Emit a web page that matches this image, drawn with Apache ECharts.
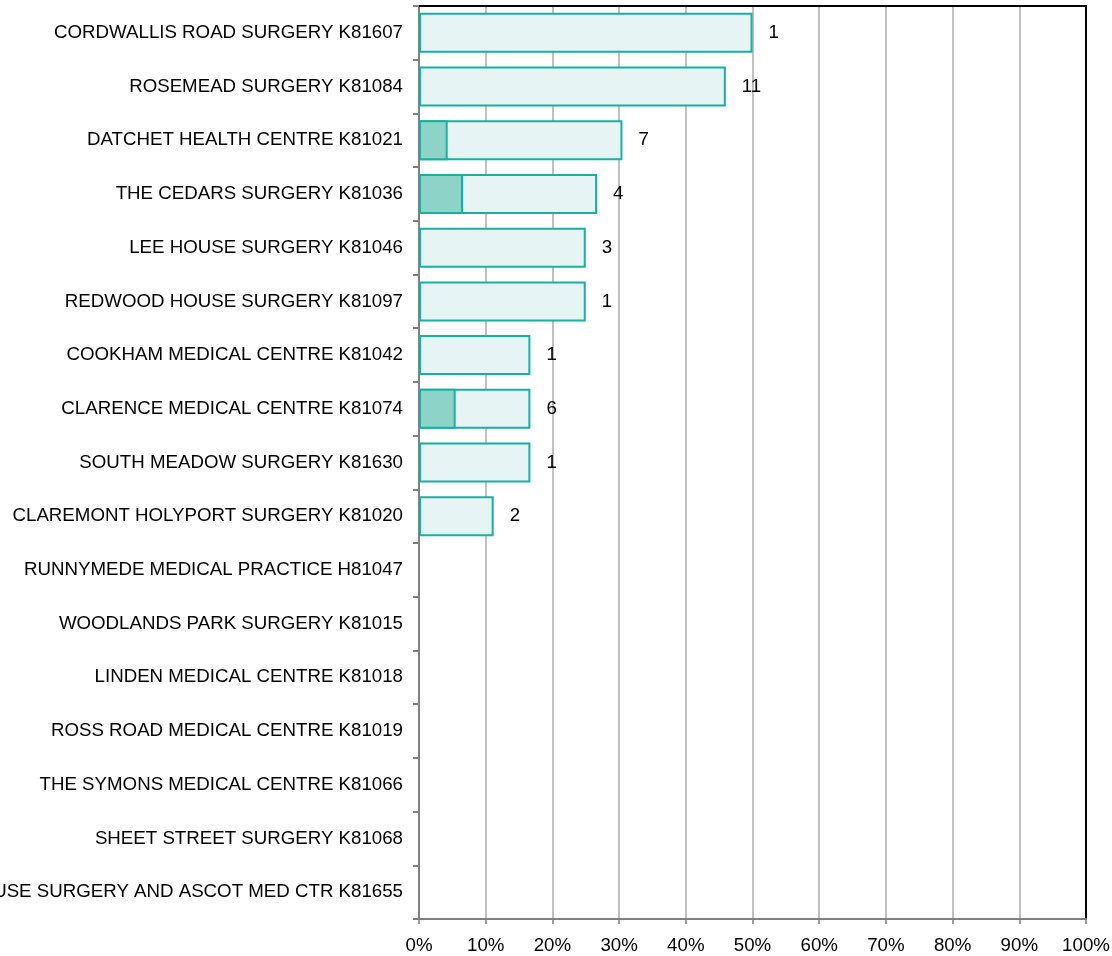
<!DOCTYPE html>
<html>
<head>
<meta charset="utf-8">
<script src="https://cdn.jsdelivr.net/npm/echarts@6/dist/echarts.min.js"></script>
<style>html,body{margin:0;padding:0;background:#fff;}#c{width:1112px;height:956px;}</style>
</head>
<body>
<div id="c"></div>
<script>
const categories = [
  "CORDWALLIS ROAD SURGERY K81607",
  "ROSEMEAD SURGERY K81084",
  "DATCHET HEALTH CENTRE K81021",
  "THE CEDARS SURGERY K81036",
  "LEE HOUSE SURGERY K81046",
  "REDWOOD HOUSE SURGERY K81097",
  "COOKHAM MEDICAL CENTRE K81042",
  "CLARENCE MEDICAL CENTRE K81074",
  "SOUTH MEADOW SURGERY K81630",
  "CLAREMONT HOLYPORT SURGERY K81020",
  "RUNNYMEDE MEDICAL PRACTICE H81047",
  "WOODLANDS PARK SURGERY K81015",
  "LINDEN MEDICAL CENTRE K81018",
  "ROSS ROAD MEDICAL CENTRE K81019",
  "THE SYMONS MEDICAL CENTRE K81066",
  "SHEET STREET SURGERY K81068",
  "MAGNOLIA HOUSE SURGERY AND ASCOT MED CTR K81655"
];
// total percentage (light bar)
const totalPct = [50, 46, 30.5, 26.7, 25, 25, 16.7, 16.7, 16.7, 11.2, null, null, null, null, null, null, null];
// darker segment percentage
const darkPct = [null, null, 4.3, 6.6, null, null, null, 5.5, null, null, null, null, null, null, null, null, null];
// counts shown beside bars
const counts = [1, 11, 7, 4, 3, 1, 1, 6, 1, 2, null, null, null, null, null, null, null];
const xTicks = [0, 10, 20, 30, 40, 50, 60, 70, 80, 90, 100];

const teal = '#17b29f';
const FONT = 'Liberation Sans';
const FS = 18.7;
const chart = echarts.init(document.getElementById('c'), null, {renderer: 'canvas'});
chart.setOption({
  animation: false,
  grid: {left: 419, right: 26, top: 6, bottom: 37, containLabel: false, outerBoundsMode: 'none', show: false},
  xAxis: [{
    type: 'value', min: xTicks[0], max: xTicks[xTicks.length - 1], interval: 10,
    axisLine: {show: true, lineStyle: {color: '#808080', width: 2}},
    axisTick: {show: true, length: 5, lineStyle: {color: '#808080', width: 1.5}},
    axisLabel: {formatter: v => v + '%', color: '#000', fontSize: FS, fontFamily: FONT, margin: 17},
    splitLine: {show: true, lineStyle: {color: '#c0c0c0', width: 2}}
  }, {
    type: 'value', position: 'top', min: 0, max: 100,
    axisLine: {show: true, onZero: false, lineStyle: {color: '#000', width: 2}},
    axisTick: {show: false}, axisLabel: {show: false}, splitLine: {show: false}
  }],
  yAxis: [{
    type: 'category', data: categories, inverse: true,
    axisLine: {show: true, lineStyle: {color: '#808080', width: 2}},
    axisTick: {show: true, length: 6, lineStyle: {color: '#808080', width: 2}},
    axisLabel: {color: '#000', fontSize: FS, fontFamily: FONT, margin: 16},
    splitLine: {show: false}
  }, {
    type: 'category', data: categories, inverse: true, position: 'right',
    axisLine: {show: true, onZero: false, lineStyle: {color: '#000', width: 2}},
    axisTick: {show: false}, axisLabel: {show: false}, splitLine: {show: false}
  }],
  series: [
    {
      type: 'bar', xAxisIndex: 0, yAxisIndex: 0,
      data: totalPct.map(v => v === null ? '-' : v), barWidth: 40, barGap: '-100%',
      itemStyle: {color: '#e6f4f3', borderColor: teal, borderWidth: 2},
      label: {show: true, position: 'right', distance: 16, color: '#000', fontSize: FS, fontFamily: FONT,
        formatter: p => counts[p.dataIndex] === null ? '' : String(counts[p.dataIndex])}
    },
    {
      type: 'bar', xAxisIndex: 0, yAxisIndex: 0,
      data: darkPct.map(v => v === null ? '-' : v), barWidth: 40, barGap: '-100%',
      itemStyle: {color: '#8dd3c8', borderColor: teal, borderWidth: 2},
      label: {show: false}
    }
  ]
});
</script>
</body>
</html>
